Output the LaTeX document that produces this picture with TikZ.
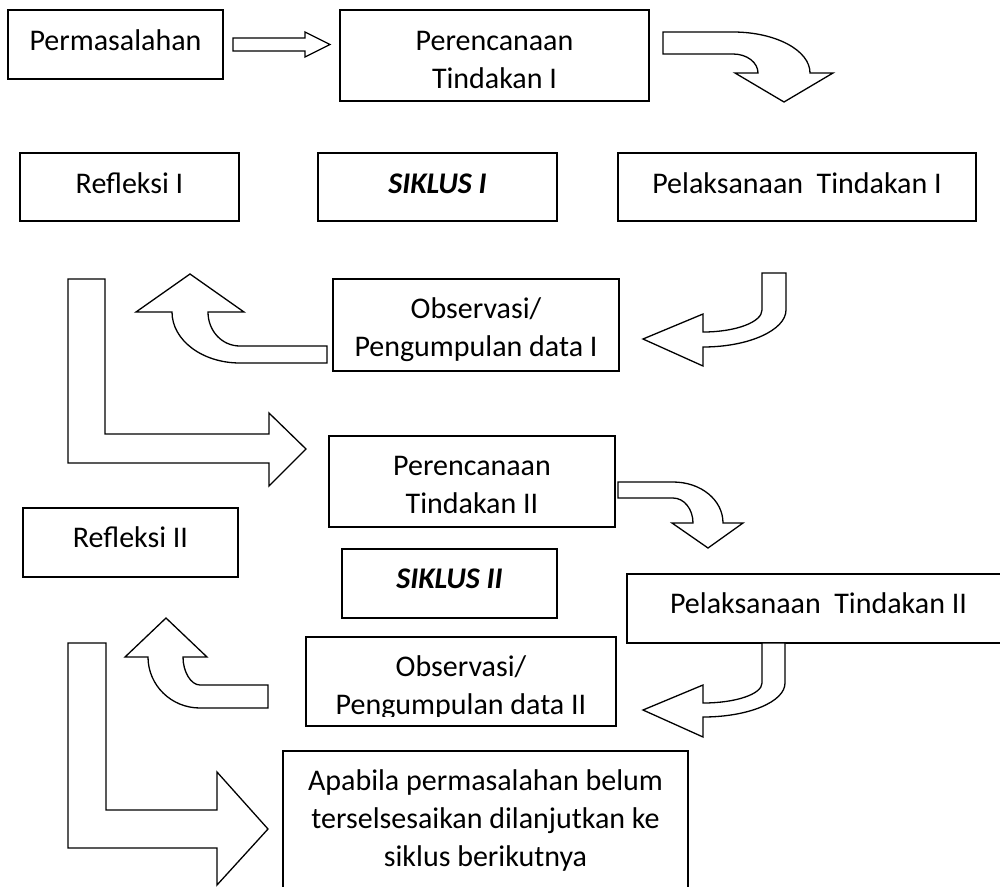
\documentclass[tikz,border=0pt]{standalone}
\usepackage{fontspec}
\setmainfont{Carlito}
\usepackage{tikz}

\begin{document}
\begin{tikzpicture}[x=1pt,y=-1pt,
  kotak/.style={draw,line width=1.6pt,inner sep=0pt,outer sep=0pt},
  teks/.style={anchor=base,inner sep=0pt,align=center,font=\fontsize{30}{38}\selectfont},
  panah/.style={draw,fill=white,line width=1.3pt,line join=miter}]
\useasboundingbox (0,0) rectangle (1000,886);
\fill[white] (0,0) rectangle (1000,886);
\clip (0,0) rectangle (1000,886);

% kotak siklus I
\node[kotak,minimum width=215pt,minimum height=69pt] (masalah) at (115.5,44.5) {};
\node[kotak,minimum width=309pt,minimum height=91pt] (renc1) at (494.5,55.5) {};
\node[kotak,minimum width=219pt,minimum height=68pt] (refl1) at (129.5,187) {};
\node[kotak,minimum width=239pt,minimum height=68pt] (siklus1) at (437.5,187) {};
\node[kotak,minimum width=358pt,minimum height=68pt] (laks1) at (797,187) {};
\node[kotak,minimum width=286pt,minimum height=92pt] (obs1) at (476,325) {};

% kotak siklus II
\node[kotak,minimum width=286pt,minimum height=91pt] (renc2) at (472,481.5) {};
\node[kotak,minimum width=215pt,minimum height=69pt] (refl2) at (130.5,542.5) {};
\node[kotak,minimum width=215pt,minimum height=69pt] (siklus2) at (449.5,583.5) {};
\node[kotak,minimum width=383pt,minimum height=69pt] (laks2) at (818.5,608.5) {};
\node[kotak,minimum width=310pt,minimum height=89pt] (obs2) at (461,681.5) {};
\node[kotak,minimum width=405pt,minimum height=140pt] (lanjut) at (485.5,821) {};

% teks (base = garis dasar baris terakhir)
\node[teks] (masalahT) at ([yshift=-40pt]masalah.north) {Permasalahan};
\node[teks] (renc1T) at ([yshift=-78pt]renc1.north) {Perencanaan\\Tindakan I};
\node[teks] (refl1T) at ([yshift=-40pt]refl1.north) {Refleksi I};
\node[teks] (siklus1T) at ([yshift=-40pt]siklus1.north) {\textbf{\textit{SIKLUS I}}};
\node[teks] (laks1T) at ([yshift=-40pt]laks1.north) {Pelaksanaan\ \ Tindakan I};
\node[teks] (obs1T) at ([yshift=-77pt]obs1.north) {Observasi/\\Pengumpulan data I};
\node[teks] (renc2T) at ([yshift=-77pt]renc2.north) {Perencanaan\\Tindakan II};
\node[teks] (refl2T) at ([yshift=-39pt]refl2.north) {Refleksi II};
\node[teks] (siklus2T) at ([yshift=-39pt]siklus2.north) {\textbf{\textit{SIKLUS II}}};
\node[teks] (laks2T) at ([yshift=-39pt]laks2.north) {Pelaksanaan\ \ Tindakan II};
\begin{scope}
  \clip (306,637) rectangle (616,716);
  \node[teks] (obs2T) at ([yshift=-77pt]obs2.north) {Observasi/\\Pengumpulan data II};
\end{scope}
\node[teks] (lanjutT) at ([yshift=-115pt]lanjut.north)
  {Apabila permasalahan belum\\terselsesaikan dilanjutkan ke\\siklus berikutnya};

% panah blok
\draw[panah] (233,38) -- (305,38) -- (305,32) -- (330,44.5) -- (305,57) -- (305,51) -- (233,51) -- cycle;
\draw[panah] (663,32) -- (733,32) .. controls (775,32) and (810,50) .. (810,73) -- (833,73) -- (784,102)
  -- (735,73) -- (758,73) .. controls (758,62.5) and (747,54) .. (733,54) -- (663,54) -- cycle;
\draw[panah] (762,273) -- (786,273) -- (786,310) .. controls (786,330) and (749,347) .. (703,347)
  -- (703,366) -- (643,339) -- (703,314) -- (703,332) .. controls (736,332) and (762,322) .. (762,310) -- cycle;
\draw[panah] (327,346) -- (327,363) -- (240,363) .. controls (202,363) and (172,340) .. (172,312)
  -- (136,312) -- (190,274) -- (244,312) -- (208,312) .. controls (208,331) and (222,346) .. (240,346) -- cycle;
\draw[panah] (68,279) -- (105,279) -- (105,434) -- (269,434) -- (269,413) -- (306,449) -- (269,486) -- (269,463) -- (68,463) -- cycle;
\draw[panah] (618,482) -- (673,482) .. controls (701,482) and (723,500) .. (723,523) -- (743,523) -- (708,548)
  -- (672,523) -- (693,523) .. controls (693,509) and (684,498) .. (673,498) -- (618,498) -- cycle;
\draw[panah] (762,643) -- (785,643) -- (785,683) .. controls (785,702) and (748,717) .. (703,717)
  -- (703,737) -- (643,710) -- (703,685) -- (703,703) .. controls (736,703) and (762,694) .. (762,683) -- cycle;
\draw[panah] (268,685) -- (268,708) -- (200,708) .. controls (171,708) and (148,685) .. (148,657)
  -- (125,657) -- (166,618) -- (207,657) -- (183,657) .. controls (183,672) and (191,685) .. (200,685) -- cycle;
\draw[panah] (68,643) -- (106,643) -- (106,810) -- (217,810) -- (217,772) -- (268,829) -- (217,885) -- (217,848) -- (68,848) -- cycle;
\end{tikzpicture}
\end{document}
